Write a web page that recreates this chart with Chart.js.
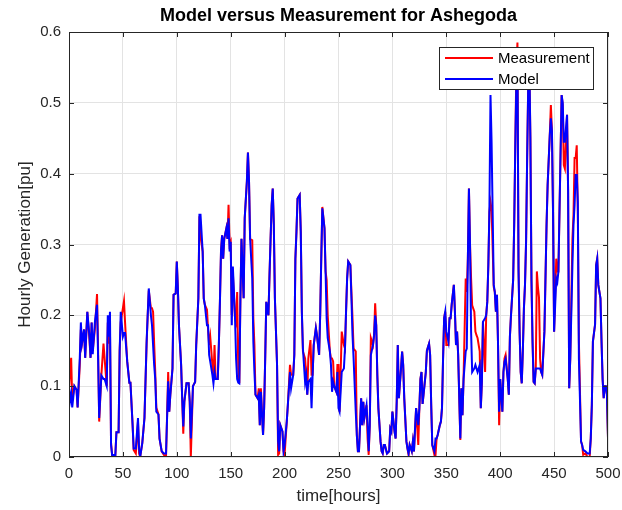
<!DOCTYPE html>
<html>
<head>
<meta charset="utf-8">
<script src="https://cdn.jsdelivr.net/npm/chart.js@4.4.1/dist/chart.umd.min.js"></script>
<style>
  html, body { margin: 0; padding: 0; background: #fff; }
  #wrap { width: 622px; height: 510px; }
</style>
</head>
<body>
<div id="wrap"><canvas id="chart" width="622" height="510"></canvas></div>
<script>
const chartTitle = 'Model versus Measurement for Ashegoda';
const xLabel = 'time[hours]';
const yLabel = 'Hourly Generation[pu]';
const seriesNames = ['Measurement', 'Model'];

const xTicks = [0, 50, 100, 150, 200, 250, 300, 350, 400, 450, 500];
const yTicks = [0, 0.1, 0.2, 0.3, 0.4, 0.5, 0.6];
const yTickLabels = ['0', '0.1', '0.2', '0.3', '0.4', '0.5', '0.6'];

// hours (not every hour, just the turning points)
const hours = [
  0, 1, 2, 3, 5, 7, 8, 10, 11, 12, 14, 15, 17, 19, 20,
  21, 22, 24, 26, 27, 28, 30, 32, 33, 35, 36, 37, 38, 39, 40,
  43, 44, 46, 47, 48, 50, 51, 52, 54, 56, 57, 59, 60, 62, 64,
  65, 66, 68, 70, 72, 73, 74, 76, 77, 78, 79, 80, 81, 83, 84,
  86, 88, 90, 92, 93, 94, 96, 97, 99, 100, 101, 102, 104, 105, 106,
  107, 109, 111, 112, 113, 115, 117, 118, 120, 121, 122, 124, 125, 126, 128,
  129, 130, 131, 133, 134, 135, 136, 138, 139, 140, 141, 142, 143, 144, 146,
  147, 148, 149, 150, 151, 152, 154, 155, 156, 157, 158, 159, 160, 162, 163,
  165, 166, 167, 168, 170, 171, 172, 173, 175, 176, 177, 178, 180, 181, 182,
  183, 185, 186, 187, 188, 189, 190, 191, 193, 194, 195, 196, 198, 199, 200,
  202, 203, 205, 206, 208, 209, 210, 211, 212, 214, 215, 216, 217, 219, 220,
  221, 222, 224, 225, 226, 227, 229, 230, 232, 233, 234, 235, 237, 238, 239,
  240, 242, 243, 244, 245, 246, 248, 249, 250, 251, 253, 255, 256, 257, 258,
  259, 261, 262, 263, 264, 266, 267, 268, 269, 271, 272, 273, 274, 276, 277,
  278, 279, 280, 282, 283, 284, 285, 286, 287, 289, 290, 291, 292, 293, 295,
  297, 298, 299, 300, 302, 303, 304, 305, 306, 308, 309, 310, 311, 313, 314,
  315, 316, 318, 319, 320, 321, 322, 324, 325, 326, 327, 328, 330, 331, 332,
  334, 335, 336, 337, 339, 340, 341, 342, 344, 345, 346, 347, 348, 349, 350,
  352, 353, 354, 355, 357, 358, 359, 360, 361, 363, 364, 365, 366, 368, 369,
  370, 371, 372, 373, 374, 376, 377, 378, 379, 381, 382, 383, 384, 386, 387,
  388, 389, 390, 391, 392, 394, 395, 396, 397, 398, 399, 400, 402, 403, 404,
  405, 407, 408, 409, 410, 412, 413, 414, 415, 416, 417, 418, 419, 420, 421,
  422, 423, 424, 425, 426, 427, 428, 429, 430, 431, 432, 433, 434, 435, 436,
  437, 438, 439, 441, 442, 443, 444, 446, 447, 448, 449, 450, 452, 453, 454,
  455, 457, 458, 459, 460, 462, 463, 464, 465, 467, 468, 469, 470, 471, 472,
  473, 475, 476, 477, 479, 481, 483, 484, 485, 486, 488, 489, 490, 491, 493,
  494, 495, 496, 497, 498, 499, 500
];

const model = [
  .097, .08, .09, .07, .10, .095, .07, .14, .19, .16, .18, .14, .205, .17, .14,
  .19, .145, .19, .215, .14, .055, .115, .11, .11, .10, .20, .17, .205, .017, .003,
  .003, .035, .035, .15, .205, .17, .175, .175, .135, .105, .105, .045, .012, .012, .055,
  .012, 0, .02, .055, .163, .20, .238, .20, .186, .158, .13, .11, .064, .06, .026,
  .008, .005, .005, .107, .064, .088, .125, .229, .231, .276, .238, .186, .13, .083, .043,
  .078, .104, .104, .078, .026, .10, .106, .158, .224, .342, .342, .29, .224, .215, .186,
  .186, .144, .135, .116, .104, .12, .11, .11, .158, .219, .29, .313, .28, .308, .323,
  .308, .337, .29, .304, .186, .269, .196, .139, .11, .105, .104, .224, .308, .224, .337,
  .389, .43, .389, .308, .252, .163, .12, .088, .083, .088, .045, .092, .031, .069, .139,
  .219, .2, .257, .308, .356, .379, .328, .224, .13, .022, .008, .045, .036, .008, .017,
  .05, .073, .12, .097, .116, .144, .28, .318, .365, .37, .318, .205, .153, .106, .116,
  .088, .106, .11, .069, .116, .158, .182, .172, .144, .2, .28, .351, .323, .262, .196,
  .168, .149, .13, .092, .106, .10, .092, .12, .069, .064, .12, .125, .153, .205, .252,
  .276, .271, .224, .172, .139, .064, .031, .008, .008, .083, .045, .078, .055, .073, .045,
  .008, .045, .144, .158, .172, .2, .186, .116, .069, .022, .008, .005, .017, .017, .005,
  .008, .04, .036, .064, .036, .026, .078, .158, .083, .125, .149, .13, .083, .022, .012,
  .005, .017, .008, .022, .008, .04, .069, .045, .069, .11, .12, .075, .105, .12, .15,
  .16, .144, .073, .017, .008, .026, .026, .031, .045, .05, .069, .139, .196, .205, .177,
  .163, .196, .196, .215, .243, .205, .158, .177, .144, .026, .097, .059, .11, .149, .153,
  .28, .379, .30, .177, .12, .125, .13, .125, .12, .13, .069, .106, .191, .196, .2,
  .219, .271, .351, .511, .445, .243, .233, .205, .229, .158, .064, .11, .064, .12, .135,
  .139, .11, .088, .17, .20, .25, .33, .44, .53, .57, .262, .177, .12, .104, .15,
  .21, .243, .304, .422, .525, .56, .45, .25, .163, .106, .104, .125, .125, .125, .125,
  .125, .12, .116, .177, .252, .328, .384, .455, .478, .46, .347, .177, .252, .247, .262,
  .347, .511, .50, .445, .445, .483, .375, .097, .139, .271, .328, .356, .398, .398, .36,
  .139, .022, .017, .01, .008, .005, .005, .026, .073, .163, .187, .271, .28, .243, .224,
  .163, .11, .083, .10, .10, .088, .026
];

const measurement = [
  .097, .12, .14, .08, .10, .095, .07, .13, .18, .16, .18, .14, .205, .165, .14,
  .19, .15, .18, .23, .15, .05, .115, .16, .14, .10, .19, .16, .18, .02, .003,
  .003, .035, .035, .15, .19, .21, .22, .19, .135, .105, .105, .045, .01, .005, .05,
  .005, 0, .02, .055, .16, .20, .235, .21, .21, .205, .16, .12, .07, .06, .026,
  .008, .003, 0, .12, .064, .088, .125, .229, .231, .276, .238, .186, .13, .083, .033,
  .078, .104, .104, .078, 0, .10, .106, .158, .224, .34, .313, .29, .224, .215, .208,
  .18, .158, .17, .13, .11, .158, .11, .11, .158, .219, .29, .313, .28, .308, .323,
  .308, .356, .30, .304, .20, .26, .196, .19, .233, .125, .104, .224, .308, .224, .337,
  .389, .43, .389, .308, .306, .196, .158, .088, .083, .097, .045, .097, .031, .069, .139,
  .219, .2, .257, .308, .356, .379, .328, .224, .13, .003, .005, .045, .036, .008, .003,
  .05, .073, .13, .116, .116, .144, .28, .318, .365, .37, .318, .205, .149, .139, .116,
  .088, .139, .165, .116, .116, .158, .182, .172, .144, .2, .28, .353, .323, .262, .25,
  .20, .149, .139, .139, .135, .10, .092, .13, .13, .064, .177, .158, .153, .205, .252,
  .276, .271, .233, .196, .153, .149, .031, .008, .008, .083, .045, .078, .055, .073, .026,
  .003, .045, .168, .158, .172, .217, .186, .116, .069, .022, .008, .005, .017, .017, .005,
  .008, .04, .036, .064, .036, .026, .078, .158, .083, .125, .149, .13, .083, .022, .012,
  .003, .017, .008, .022, .008, .04, .069, .017, .069, .11, .12, .075, .105, .12, .15,
  .16, .144, .073, .017, .003, .003, .026, .031, .045, .05, .069, .139, .196, .205, .158,
  .158, .196, .196, .215, .243, .205, .158, .177, .144, .024, .097, .059, .11, .252, .233,
  .28, .379, .30, .252, .214, .205, .177, .172, .168, .149, .069, .106, .191, .12, .2,
  .219, .271, .346, .36, .35, .24, .233, .205, .229, .158, .045, .11, .064, .12, .139,
  .144, .11, .088, .17, .20, .25, .33, .44, .55, .585, .27, .177, .12, .104, .15,
  .21, .243, .304, .422, .525, .555, .45, .25, .163, .106, .104, .125, .262, .24, .225,
  .139, .12, .116, .177, .252, .328, .384, .455, .497, .46, .347, .177, .28, .262, .262,
  .347, .511, .497, .412, .407, .483, .375, .097, .139, .308, .342, .422, .422, .44, .347,
  .163, .022, .017, .003, .005, 0, 0, .026, .073, .163, .187, .271, .28, .243, .224,
  .163, .11, .083, .10, .10, .088, .026
];

const seriesColors = ['#ff0000', '#0000ff'];
const axisColor = '#262626';
const fontFamily = '"Liberation Sans", Arial, sans-serif';

const toPoints = vals => hours.map((h, i) => ({ x: h, y: vals[i] }));

// MATLAB-like box, inward ticks, title and legend
const matlabAxes = {
  id: 'matlabAxes',
  afterDraw(chart) {
    const { ctx, chartArea: a, scales: { x, y } } = chart;
    ctx.save();
    ctx.strokeStyle = axisColor;
    ctx.lineWidth = 1;
    ctx.strokeRect(a.left + 0.5, a.top + 0.5, a.right - a.left - 1, a.bottom - a.top - 1);
    ctx.beginPath();
    xTicks.forEach(v => {
      const px = Math.round(x.getPixelForValue(v)) + 0.5;
      ctx.moveTo(px, a.bottom); ctx.lineTo(px, a.bottom - 5);
      ctx.moveTo(px, a.top); ctx.lineTo(px, a.top + 5);
    });
    yTicks.forEach(v => {
      const py = Math.round(y.getPixelForValue(v)) + 0.5;
      ctx.moveTo(a.left, py); ctx.lineTo(a.left + 5, py);
      ctx.moveTo(a.right, py); ctx.lineTo(a.right - 5, py);
    });
    ctx.stroke();

    // title
    ctx.fillStyle = '#000';
    ctx.font = 'bold 18px ' + fontFamily;
    ctx.textAlign = 'center';
    ctx.textBaseline = 'middle';
    ctx.fillText(chartTitle, (a.left + a.right) / 2, 16);

    // legend box, top right inside the axes
    const bw = 154, bh = 42;
    const bx = a.right - 15 - bw, by = a.top + 15;
    ctx.fillStyle = '#fff';
    ctx.fillRect(bx, by, bw, bh);
    ctx.strokeStyle = axisColor;
    ctx.strokeRect(bx + 0.5, by + 0.5, bw, bh);
    ctx.font = '15px ' + fontFamily;
    ctx.textAlign = 'left';
    seriesNames.forEach((name, i) => {
      const ly = by + 11 + i * 21;
      ctx.strokeStyle = seriesColors[i];
      ctx.lineWidth = 2;
      ctx.beginPath();
      ctx.moveTo(bx + 6, ly); ctx.lineTo(bx + 54, ly);
      ctx.stroke();
      ctx.fillStyle = '#000';
      ctx.fillText(name, bx + 59, ly + 1);
    });
    ctx.restore();
  }
};

new Chart(document.getElementById('chart'), {
  type: 'line',
  data: {
    datasets: [
      { label: seriesNames[1], data: toPoints(model), borderColor: seriesColors[1], borderWidth: 2, pointRadius: 0, tension: 0, order: 0 },
      { label: seriesNames[0], data: toPoints(measurement), borderColor: seriesColors[0], borderWidth: 2, pointRadius: 0, tension: 0, order: 1 }
    ]
  },
  options: {
    responsive: false,
    animation: false,
    devicePixelRatio: 1,
    layout: { padding: { top: 32, right: 14, bottom: 0, left: 0 } },
    plugins: { legend: { display: false }, title: { display: false }, tooltip: { enabled: false } },
    scales: {
      x: {
        type: 'linear', min: 0, max: 500,
        afterBuildTicks: s => { s.ticks = xTicks.map(v => ({ value: v })); },
        afterFit: s => { s.height = 53; s.paddingLeft = 0; s.paddingRight = 0; },
        ticks: { color: axisColor, font: { family: fontFamily, size: 15 }, padding: 8, maxRotation: 0 },
        grid: { color: '#e3e3e3', drawTicks: false },
        border: { display: false },
        title: { display: true, text: xLabel, color: axisColor, font: { family: fontFamily, size: 17 }, padding: { top: 0, bottom: 3 } }
      },
      y: {
        min: 0, max: 0.6,
        afterBuildTicks: s => { s.ticks = yTicks.map(v => ({ value: v })); },
        afterFit: s => { s.width = 69; s.paddingTop = 0; s.paddingBottom = 0; },
        ticks: { color: axisColor, font: { family: fontFamily, size: 15 }, padding: 8, callback: (v, i) => yTickLabels[i] },
        grid: { color: '#e3e3e3', drawTicks: false },
        border: { display: false },
        title: { display: true, text: yLabel, color: axisColor, font: { family: fontFamily, size: 17 }, padding: { top: 15, bottom: 0 } }
      }
    }
  },
  plugins: [matlabAxes]
});
</script>
</body>
</html>
